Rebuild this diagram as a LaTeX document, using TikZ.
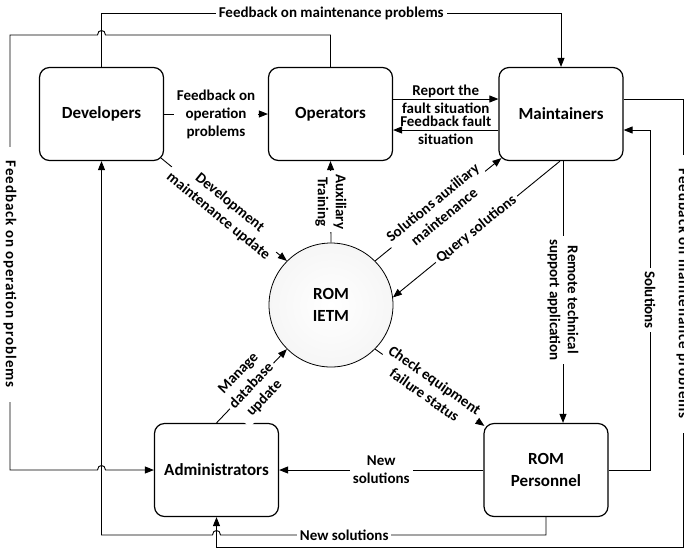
\documentclass[tikz,border=0pt]{standalone}
\usepackage{fontspec}
\setmainfont{Carlito}
\newfontfamily\widefont{Carlito}[LetterSpace=6]
\usetikzlibrary{arrows.meta}

\newcommand\boxfont{\fontsize{17}{22}\selectfont\bfseries}
\newcommand\lblfont{\fontsize{15}{18}\selectfont\bfseries}
\newcommand\sidefont{\widefont\fontsize{15}{18}\selectfont\bfseries}

\tikzset{
  entity/.style={draw, line width=1.2pt, rounded corners=10pt, minimum width=124pt,
    minimum height=93pt, align=center, font=\boxfont},
  store/.style={circle, draw, line width=0.8pt, minimum size=124pt, inner color=white,
    outer color=gray!7, align=center, font=\boxfont},
  flow/.style={line width=0.9pt, -{Triangle[length=9pt,width=7pt]}},
  lbl/.style={font=\lblfont, align=center, inner sep=1pt},
  gaplbl/.style={lbl, fill=white, inner sep=3pt},
  sidelbl/.style={gaplbl, font=\sidefont, rotate=-90, inner xsep=14pt},
}

\begin{document}
\begin{tikzpicture}[x=1pt,y=-1pt]
\useasboundingbox (0,0) rectangle (684,550);

% entities and the store
\node[entity] (dev) at (101.5,114) {Developers};
\node[entity] (opr) at (330.5,114) {Operators};
\node[entity] (mai) at (561,114) {Maintainers};
\node[entity] (adm) at (216.5,470) {Administrators};
\node[entity] (rom) at (546,470) {ROM\\Personnel};
\node[store] (ietm) at (331,305) {ROM\\IETM};

% outer feedback loops
\draw[flow] (dev.north) -- (101.5,13)
  -- node[gaplbl]{Feedback on maintenance problems} (561,13) -- (mai.north);
\draw[flow] (opr.north) -- (330.5,35) -- (105.5,35)
  .. controls (105.5,29) and (97.5,29) .. (97.5,35) -- (10,35)
  -- node[sidelbl, pos=.55]{Feedback on operation problems} (10,470)
  -- (97.5,470) .. controls (97.5,464) and (105.5,464) .. (105.5,470) -- (adm.west);
\draw[flow] (rom.south) -- (546,535)
  -- node[gaplbl, pos=.62]{New solutions} (220.5,535)
  .. controls (220.5,529) and (212.5,529) .. (212.5,535) -- (101.5,535) -- (dev.south);
\draw[flow] ([yshift=15pt]mai.east) -- (683,99)
  -- node[sidelbl, pos=.43, xshift=2pt]{Feedback on maintenance problems} (683,547)
  -- (216.5,547) -- (adm.south);
\draw[flow] (rom.east) -- (650,470)
  -- node[gaplbl, rotate=-90]{Solutions} (650,130) -- ([yshift=-16pt]mai.east);

% straight flows
\draw[flow] (dev.east) -- node[gaplbl]{Feedback on\\operation\\problems} (opr.west);
\draw[flow] ([yshift=15pt]opr.east) -- node[lbl]{Report the\\fault situation} ([yshift=15pt]mai.west);
\draw[flow] ([yshift=-16pt]mai.west) -- node[lbl]{Feedback fault\\situation} ([yshift=-16pt]opr.east);
\draw[flow] ([xshift=2pt]mai.south)
  -- node[gaplbl, rotate=-90, pos=.53]{Remote technical\\support application} ([xshift=17pt]rom.north);
\draw[flow] (rom.west) -- node[gaplbl]{New\\solutions} (adm.east);
\draw[flow] (ietm.north) -- node[gaplbl, rotate=-90]{Auxiliary\\Training} (opr.south);

% flows to and from the IETM
\draw[flow] ([shift={(-3pt,3pt)}]dev.south east)
  -- node[gaplbl, sloped]{Development\\maintenance update} (ietm.135);
\draw[flow] (ietm.45)
  -- node[gaplbl, sloped]{Solutions auxiliary\\maintenance} ([shift={(3pt,3pt)}]mai.south west);
\draw[flow] ([xshift=-1pt]mai.south) -- node[gaplbl, sloped]{Query solutions} (ietm.7);
\draw[flow] (ietm.-45)
  -- node[gaplbl, sloped]{Check equipment\\failure status} ([shift={(1pt,-3pt)}]rom.north west);
\draw[flow] (adm.north) -- node[gaplbl, sloped]{Manage\\database\\update} (ietm.225);
\end{tikzpicture}
\end{document}
